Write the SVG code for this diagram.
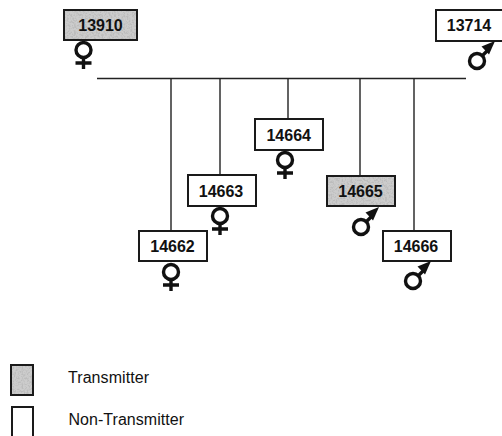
<svg xmlns="http://www.w3.org/2000/svg" width="502" height="436" viewBox="0 0 502 436">
<style>
.box{fill:#fff;stroke:#1a1a1a;stroke-width:2}
.tx{fill:none;stroke:#1a1a1a;stroke-width:2}
.mottle{fill:#cccccc;filter:url(#noise)}
.id{font:bold 16px "Liberation Sans",Arial,sans-serif;fill:#111;text-anchor:middle}
.lg{font:16px "Liberation Sans",Arial,sans-serif;fill:#111}
.sym{fill:none;stroke:#111;stroke-width:3.4}
.wire{fill:none;stroke:#222;stroke-width:1.4}
</style>
<defs>
<filter id="noise" x="0" y="0" width="100%" height="100%">
<feTurbulence type="fractalNoise" baseFrequency="0.55" numOctaves="2" seed="4" result="n"/>
<feColorMatrix in="n" type="matrix" values="0 0 0 0 0.5  0 0 0 0 0.5  0 0 0 0 0.5  4 0 0 0 -1.75" result="s"/>
<feComposite in="s" in2="SourceGraphic" operator="in" result="c"/>
<feMerge><feMergeNode in="SourceGraphic"/><feMergeNode in="c"/></feMerge>
</filter>
<g id="female"><circle cx="0" cy="0" r="7.500" class="sym"/><path d="M0 7.500V19M-8 13H8" class="sym"/></g>
<g id="male"><circle cx="0" cy="0" r="7.500" class="sym"/><path d="M5 -5L13 -13" class="sym"/><path d="M18 -20L4.500 -14.500L12 -6.500Z" fill="#111"/></g>
</defs>
<g id="connectors" class="wire">
<path d="M97 78.500H466"/>
<path d="M171 78.500V231M220 78.500V175M288 78.500V119M360 78.500V176M414 78.500V231"/>
</g>
<g id="n13910"><rect x="64" y="10" width="73" height="30" class="mottle"/><rect x="64" y="10" width="73" height="30" class="tx"/><text x="100.500" y="31" class="id">13910</text><use href="#female" x="83.500" y="50"/></g>
<g id="n13714"><rect x="436" y="10" width="70" height="31" class="box"/><text x="469" y="31" class="id">13714</text><use href="#male" x="477" y="61"/></g>
<g id="n14662"><rect x="139" y="231" width="68" height="30" class="box"/><text x="172.500" y="252" class="id">14662</text><use href="#female" x="171" y="272"/></g>
<g id="n14663"><rect x="188" y="175" width="68" height="31" class="box"/><text x="221" y="197" class="id">14663</text><use href="#female" x="220" y="216"/></g>
<g id="n14664"><rect x="255" y="119" width="68" height="31" class="box"/><text x="288.700" y="141" class="id">14664</text><use href="#female" x="285" y="160"/></g>
<g id="n14665"><rect x="327" y="176" width="68" height="30" class="mottle"/><rect x="327" y="176" width="68" height="30" class="tx"/><text x="360.500" y="197" class="id">14665</text><use href="#male" x="361" y="227"/></g>
<g id="n14666"><rect x="383" y="231" width="68" height="30" class="box"/><text x="416" y="252" class="id">14666</text><use href="#male" x="413" y="281"/></g>
<g id="legend-transmitter"><rect x="11" y="365" width="22" height="30" class="mottle"/><rect x="11" y="365" width="22" height="30" class="tx"/><text x="68" y="383" class="lg" textLength="81">Transmitter</text></g>
<g id="legend-non-transmitter"><rect x="12" y="407" width="21" height="34" class="box"/><text x="68.500" y="425" class="lg" textLength="115.500">Non-Transmitter</text></g>
</svg>
